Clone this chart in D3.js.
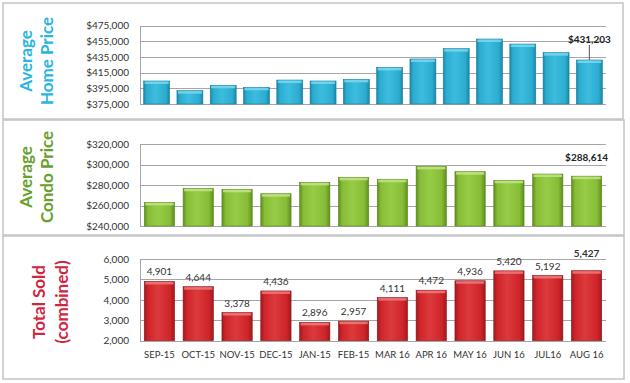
<!DOCTYPE html>
<html>
<head>
<meta charset="utf-8">
<script src="https://cdn.jsdelivr.net/npm/d3@7"></script>
<style>
  html, body { margin: 0; padding: 0; background: #ffffff; }
  svg { display: block; }
  text { font-family: Lato, "Noto Sans", sans-serif; }
</style>
</head>
<body>
<svg id="chart" width="630" height="383"></svg>
<script>
// ---------- data ----------
const homeMonths = ["JUL-15","AUG-15","SEP-15","OCT-15","NOV-15","DEC-15","JAN-16","FEB-16","MAR-16","APR-16","MAY-16","JUN-16","JUL-16","AUG-16"];
const homePrices = [404400, 392000, 398900, 396300, 405600, 404400, 406500, 421800, 432500, 445700, 458000, 451600, 440600, 431203];
const homeTicks = [375000, 395000, 415000, 435000, 455000, 475000];

const months = ["SEP-15","OCT-15","NOV-15","DEC-15","JAN-15","FEB-15","MAR 16","APR 16","MAY 16","JUN 16","JUL16","AUG 16"];
const condoPrices = [263100, 276800, 275800, 271500, 282600, 287500, 285600, 298200, 293000, 284600, 290700, 288614];
const condoTicks = [240000, 260000, 280000, 300000, 320000];

const totalSold = [4901, 4644, 3378, 4436, 2896, 2957, 4111, 4472, 4936, 5420, 5192, 5427];
const soldTicks = [2000, 3000, 4000, 5000, 6000];

// ---------- drawing ----------
const svg = d3.select("#chart");
const defs = svg.append("defs");

function makeGradient(id, edge, mid, light) {
  const g = defs.append("linearGradient").attr("id", id)
    .attr("x1", "0%").attr("x2", "100%").attr("y1", "0%").attr("y2", "0%");
  g.append("stop").attr("offset", "0%").attr("stop-color", edge);
  g.append("stop").attr("offset", "12%").attr("stop-color", mid);
  g.append("stop").attr("offset", "45%").attr("stop-color", light);
  g.append("stop").attr("offset", "85%").attr("stop-color", mid);
  g.append("stop").attr("offset", "100%").attr("stop-color", edge);
}
makeGradient("gBlue", "#1a87a8", "#2cadd0", "#3cbde0");
makeGradient("gGreen", "#5f8d1e", "#86bc36", "#98cc46");
makeGradient("gRed", "#9e1a1e", "#cf2429", "#dc3a3c");

const fmtMoney = d => "$" + d3.format(",")(d);
const fmtNum = d3.format(",");

function panel(cfg) {
  const g = svg.append("g");
  // frame
  g.append("rect")
    .attr("x", cfg.frame[0]).attr("y", cfg.frame[1])
    .attr("width", cfg.frame[2]).attr("height", cfg.frame[3])
    .attr("fill", "#ffffff").attr("stroke", "#c4c4c4").attr("stroke-width", 1.5);

  const x = d3.scaleBand().domain(cfg.cats).range([140, 606]).paddingInner(0.22).paddingOuter(0.11);
  const y = d3.scaleLinear().domain(cfg.domain).range(cfg.yRange);

  // gridlines
  g.append("g").selectAll("line").data(cfg.ticks).join("line")
    .attr("x1", 140).attr("x2", 606)
    .attr("y1", d => Math.round(y(d)) + 0.5).attr("y2", d => Math.round(y(d)) + 0.5)
    .attr("stroke", "#a6a6a6").attr("stroke-width", 1);

  // y axis
  const ax = g.append("g").attr("transform", "translate(140,0)")
    .call(d3.axisLeft(y).tickValues(cfg.ticks).tickFormat(cfg.fmt).tickSize(0).tickPadding(11));
  ax.select(".domain").attr("stroke", "#a6a6a6");
  ax.selectAll("text").attr("font-size", 10).attr("fill", "#333").attr("font-family", "Lato, sans-serif");

  // bars
  const bars = g.append("g").selectAll("g").data(cfg.values).join("g");
  bars.append("rect")
    .attr("x", (d, i) => x(cfg.cats[i]))
    .attr("y", d => y(d))
    .attr("width", x.bandwidth())
    .attr("height", d => y(cfg.domain[0]) - y(d))
    .attr("fill", `url(#${cfg.grad})`)
    .attr("stroke", cfg.edge).attr("stroke-width", 0.6);
  bars.append("rect")
    .attr("x", (d, i) => x(cfg.cats[i]) + 1)
    .attr("y", d => y(d) + 0.5)
    .attr("width", x.bandwidth() - 2)
    .attr("height", 2.5)
    .attr("fill", cfg.top).attr("opacity", 0.85);

  // title
  const tx = g.append("text")
    .attr("transform", `translate(${cfg.titlePos[0]},${cfg.titlePos[1]}) rotate(-90)`)
    .attr("text-anchor", "middle")
    .attr("font-weight", "bold").attr("font-size", cfg.titleSize)
    .attr("fill", cfg.titleColor);
  tx.append("tspan").attr("x", 0).attr("dy", 0).text(cfg.title[0]);
  tx.append("tspan").attr("x", 0).attr("dy", cfg.titleGap).text(cfg.title[1]);

  return { g, x, y };
}

// Panel 1: home price
const p1 = panel({
  frame: [3, 3, 620, 116],
  cats: homeMonths, values: homePrices, ticks: homeTicks,
  domain: [375000, 475000], yRange: [104, 25.7], fmt: fmtMoney,
  grad: "gBlue", edge: "#1a7f9e", top: "#7ad8ef",
  title: ["Average", "Home Price"], titlePos: [32, 61], titleGap: 21, titleSize: 17,
  titleColor: "#29b5e1"
});
{
  const i = homePrices.length - 1;
  const cx = p1.x(homeMonths[i]) + p1.x.bandwidth() / 2;
  p1.g.append("line").attr("x1", cx).attr("x2", cx)
    .attr("y1", 45).attr("y2", p1.y(homePrices[i]))
    .attr("stroke", "#555").attr("stroke-width", 1);
  p1.g.append("text").attr("x", cx).attr("y", 43).attr("text-anchor", "middle")
    .attr("font-size", 10).attr("font-weight", "bold").attr("fill", "#222")
    .text(fmtMoney(homePrices[i]));
}

// Panel 2: condo price
const p2 = panel({
  frame: [3, 120, 621, 115],
  cats: months, values: condoPrices, ticks: condoTicks,
  domain: [240000, 320000], yRange: [226, 144], fmt: fmtMoney,
  grad: "gGreen", edge: "#5a8a1a", top: "#c2e58a",
  title: ["Average", "Condo Price"], titlePos: [32, 177], titleGap: 21, titleSize: 17,
  titleColor: "#67a02c"
});
{
  const i = condoPrices.length - 1;
  const cx = p2.x(months[i]) + p2.x.bandwidth() / 2;
  p2.g.append("text").attr("x", cx).attr("y", 161).attr("text-anchor", "middle")
    .attr("font-size", 10).attr("font-weight", "bold").attr("fill", "#222")
    .text(fmtMoney(condoPrices[i]));
}

// Panel 3: total sold
const p3 = panel({
  frame: [3, 236, 621, 143],
  cats: months, values: totalSold, ticks: soldTicks,
  domain: [2000, 6000], yRange: [340.7, 259], fmt: fmtNum,
  grad: "gRed", edge: "#8f161a", top: "#ee7b7b",
  title: ["Total Sold", "(combined)"], titlePos: [45, 302], titleGap: 23, titleSize: 17,
  titleColor: "#d2253f"
});
p3.g.append("g").selectAll("text").data(totalSold).join("text")
  .attr("x", (d, i) => p3.x(months[i]) + p3.x.bandwidth() / 2)
  .attr("y", (d, i) => i === totalSold.length - 1 ? 257 : p3.y(d) - 6)
  .attr("text-anchor", "middle")
  .attr("font-size", 10)
  .attr("font-weight", (d, i) => i === totalSold.length - 1 ? "bold" : "normal")
  .attr("fill", "#333")
  .text(d => fmtNum(d));
p3.g.append("g").selectAll("text").data(months).join("text")
  .attr("x", d => p3.x(d) + p3.x.bandwidth() / 2)
  .attr("y", 358)
  .attr("text-anchor", "middle")
  .attr("font-size", 9.5)
  .attr("fill", "#333")
  .text(d => d);
</script>
</body>
</html>
